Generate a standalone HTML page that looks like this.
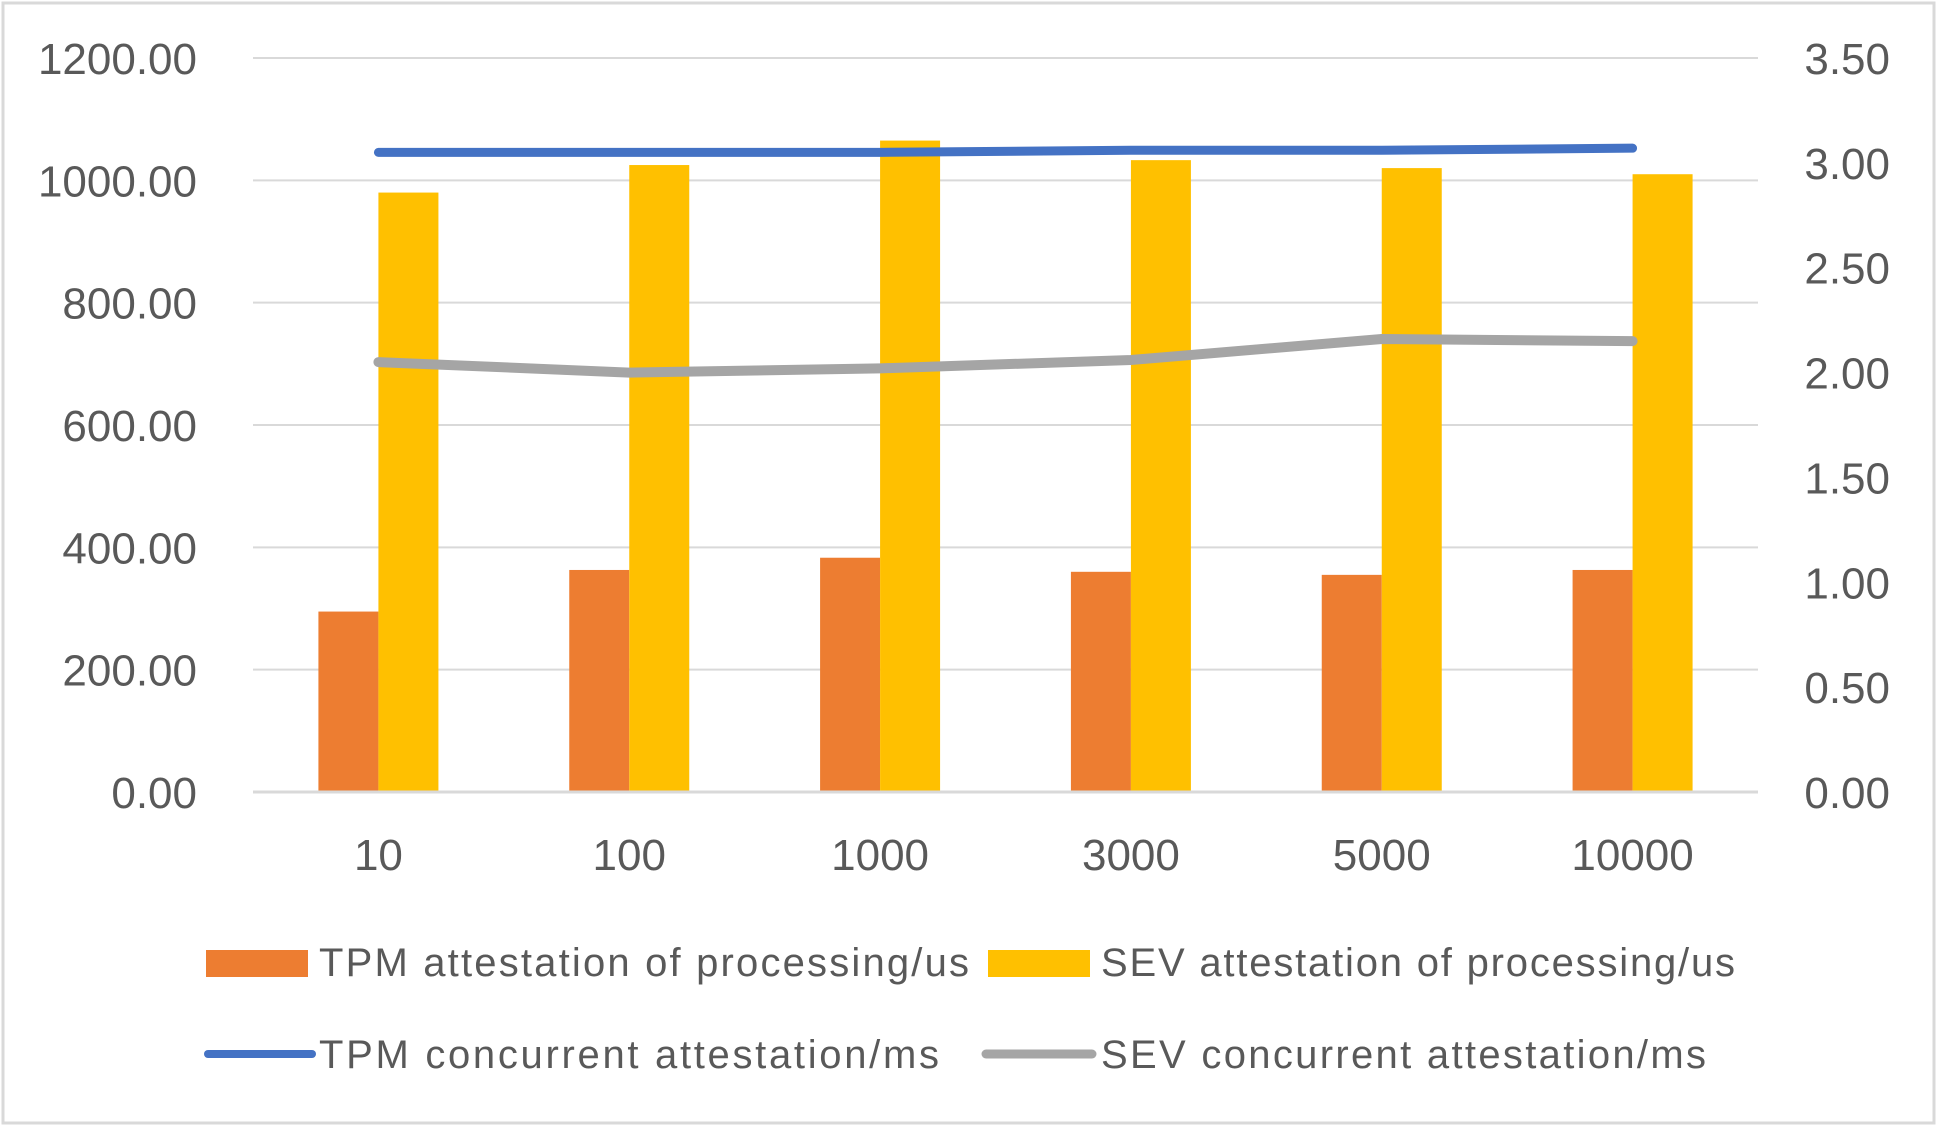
<!DOCTYPE html>
<html><head><meta charset="utf-8"><style>
html,body{margin:0;padding:0;background:#fff;}
svg{display:block;font-family:"Liberation Sans",sans-serif;}
</style></head><body>
<svg id="chart" width="1937" height="1126" viewBox="0 0 1937 1126" xmlns="http://www.w3.org/2000/svg">
<rect x="3" y="3" width="1931" height="1120" fill="#fff" stroke="#d9d9d9" stroke-width="3"/>
<g id="grid"></g><g id="bars"></g><g id="lines"></g><g id="labels"></g>
<g id="legend">
 <rect x="206" y="950" width="102" height="27" fill="#ed7d31"/>
 <text x="319" y="976" font-size="40" fill="#595959" textLength="650">TPM attestation of processing/us</text>
 <rect x="988" y="950" width="102" height="27" fill="#ffc000"/>
 <text x="1101" y="976" font-size="40" fill="#595959" textLength="634">SEV attestation of processing/us</text>
 <line x1="208" y1="1054" x2="312" y2="1054" stroke="#4472c4" stroke-width="8" stroke-linecap="round"/>
 <text x="319" y="1068" font-size="40" fill="#595959" textLength="620">TPM concurrent attestation/ms</text>
 <line x1="986" y1="1054" x2="1092" y2="1054" stroke="#a5a5a5" stroke-width="9" stroke-linecap="round"/>
 <text x="1101" y="1068" font-size="40" fill="#595959" textLength="605">SEV concurrent attestation/ms</text>
</g>
</svg>
<script>
const categories = ["10","100","1000","3000","5000","10000"];
const tpmBar = [295, 363, 383, 360, 355, 363];
const sevBar = [980, 1025, 1065, 1033, 1020, 1010];
const tpmLine = [3.05, 3.05, 3.05, 3.06, 3.06, 3.07];
const sevLine = [2.05, 2.00, 2.02, 2.06, 2.16, 2.15];
const leftTicks = ["0.00","200.00","400.00","600.00","800.00","1000.00","1200.00"];
const rightTicks = ["0.00","0.50","1.00","1.50","2.00","2.50","3.00","3.50"];

const NS="http://www.w3.org/2000/svg";
const X0=253, X1=1758, Y0=792, Y1=58;
const band=(X1-X0)/categories.length;
const yL=v=>Y0-(v/1200)*(Y0-Y1);
const yR=v=>Y0-(v/3.5)*(Y0-Y1);
const xC=i=>X0+band*(i+0.5);
function mk(tag,attrs,parent){const e=document.createElementNS(NS,tag);for(const k in attrs)e.setAttribute(k,attrs[k]);document.getElementById(parent).appendChild(e);return e;}

leftTicks.forEach((t,i)=>{
  const v=parseFloat(t);
  const g=mk('line',{x1:X0,x2:X1,y1:yL(v),y2:yL(v),stroke:'#d9d9d9','stroke-width':i===0?3:2},'grid');
  
  
  const l=mk('text',{x:197,y:yL(v)+16,'font-size':44,fill:'#595959','text-anchor':'end'},'labels');
  l.textContent=t;
  
  
});
rightTicks.forEach(t=>{
  const v=parseFloat(t);
  const l=mk('text',{x:1890,y:yR(v)+16,'font-size':44,fill:'#595959','text-anchor':'end'},'labels');
  l.textContent=t;
  
  
});
const bw=60;
categories.forEach((c,i)=>{
  const cx=xC(i);
  const b1=mk('rect',{x:cx-bw,y:yL(tpmBar[i]),width:bw,height:Y0-yL(tpmBar[i]),fill:'#ed7d31'},'bars');
  
  
  const b2=mk('rect',{x:cx,y:yL(sevBar[i]),width:bw,height:Y0-yL(sevBar[i]),fill:'#ffc000'},'bars');
  
  
  const l=mk('text',{x:cx,y:870,'font-size':44,fill:'#595959','text-anchor':'middle'},'labels');
  l.textContent=c;
  
  
});
const base=mk('line',{x1:X0,x2:X1,y1:Y0,y2:Y0,stroke:'#d9d9d9','stroke-width':3},'lines');


function series(vals,color,name,w){
  const p=mk('polyline',{points:vals.map((v,i)=>xC(i)+','+yR(v)).join(' '),fill:'none',stroke:color,'stroke-width':w,'stroke-linecap':'round','stroke-linejoin':'round'},'lines');
  
  
}
series(sevLine,'#a5a5a5','line-sev-concurrent',10);
series(tpmLine,'#4472c4','line-tpm-concurrent',9);
</script>
</body></html>
